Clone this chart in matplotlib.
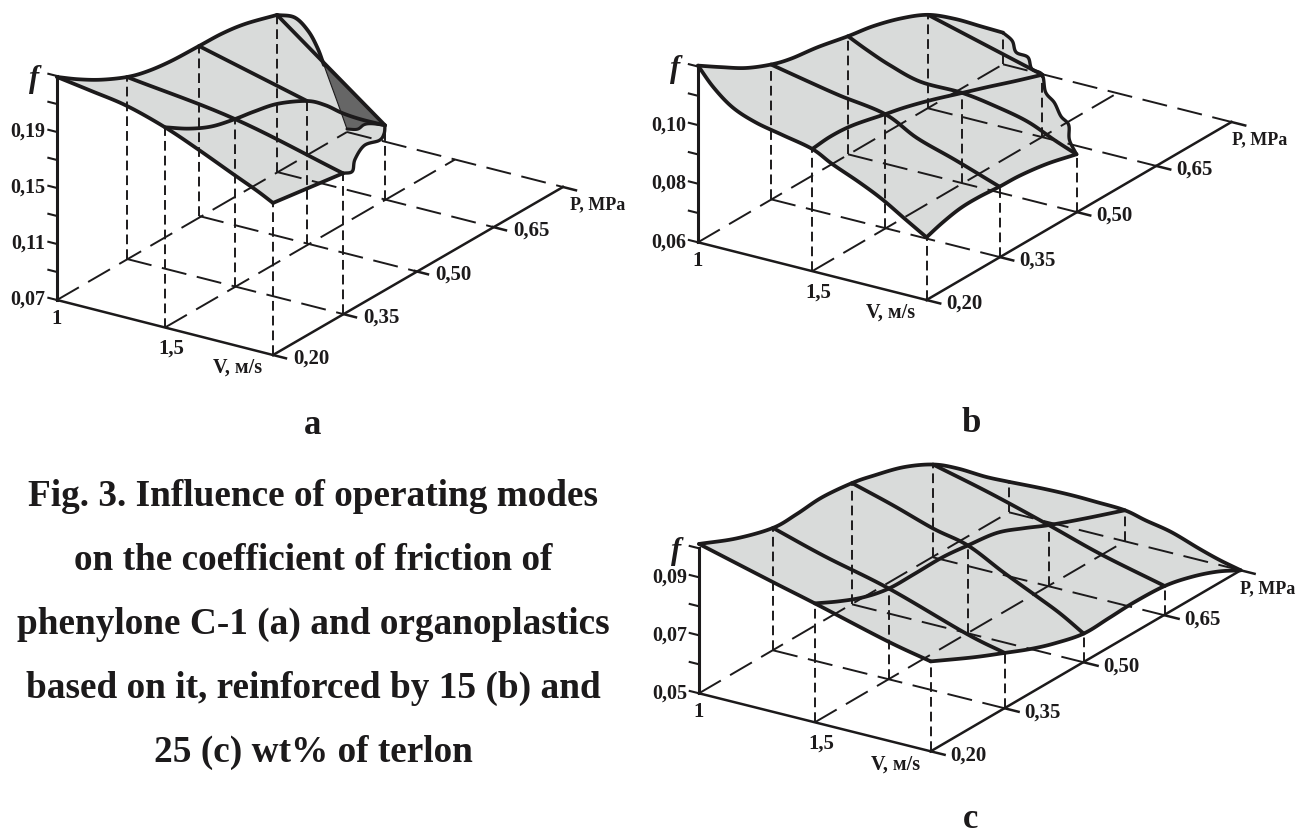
import numpy as np
import matplotlib
matplotlib.use('Agg')
import matplotlib.pyplot as plt

plt.rcParams['font.family'] = ['Liberation Serif', 'DejaVu Serif']

INK = '#1c1a1b'
LIGHT = '#d9dbda'
DARK = '#666666'

# Surface lines: V in m/s, P in MPa, f friction coefficient
# panel a
a_top_P = [0.20, 0.245, 0.2945, 0.35, 0.392, 0.4415, 0.50, 0.545, 0.59, 0.65]
a_top_f = [0.2293, 0.2189, 0.2089, 0.2, 0.1954, 0.1926, 0.1914, 0.191, 0.1885, 0.1822]
a_back_P = [0.65, 0.688, 0.717, 0.737, 0.7505]
a_back_f = [0.1822, 0.1731, 0.1579, 0.1419, 0.1273]
a_lower_P = [0.7505, 0.761, 0.782, 0.80]
a_lower_f = [0.1273, 0.1156, 0.0924, 0.0721]
a_fold_V = [1.0, 1.137, 1.225, 1.324, 1.5]
a_fold_P = [0.80, 0.759, 0.7325, 0.703, 0.65]
a_fold_f = [0.0721, 0.0852, 0.0969, 0.1071, 0.123]
a_p20_V = [1.0, 1.157, 1.322, 1.5, 1.651, 1.815, 1.926, 2.0]
a_p20_f = [0.2293, 0.2256, 0.2214, 0.213, 0.2034, 0.192, 0.1844, 0.1786]
a_v15_P = [0.20, 0.251, 0.30, 0.35, 0.39, 0.439, 0.50, 0.535, 0.568, 0.6035, 0.65]
a_v15_f = [0.213, 0.2021, 0.1941, 0.1896, 0.1868, 0.1823, 0.1718, 0.1615, 0.1489, 0.137, 0.123]
a_p35_V = [1.0, 1.5, 2.0]
a_p35_f = [0.2, 0.1896, 0.1705]
a_p50_V = [1.0, 1.5]
a_p50_f = [0.1914, 0.1718]
a_p65_V = [1.0, 1.5]
a_p65_f = [0.1822, 0.123]
a_v2_P = [0.20, 0.35]
a_v2_f = [0.1786, 0.1705]
a_wave_V = [2.0, 1.872, 1.831, 1.715, 1.56, 1.51, 1.5]
a_wave_P = [0.35, 0.427, 0.451, 0.521, 0.614, 0.644, 0.65]
a_wave_f = [0.1705, 0.1511, 0.1531, 0.1441, 0.1221, 0.1186, 0.123]
a_node_V = [1, 1, 1, 1.5, 1.5, 1.5, 1.5, 2, 2]
a_node_P = [0.35, 0.50, 0.65, 0.20, 0.35, 0.50, 0.65, 0.20, 0.35]
a_node_f = [0.2, 0.1914, 0.1822, 0.213, 0.1896, 0.1718, 0.123, 0.1786, 0.1705]
a_f_ticks = [0.07, 0.09, 0.11, 0.13, 0.15, 0.17, 0.19, 0.21, 0.23]
a_f_labels = ['0,07', '0,11', '0,15', '0,19']

# panel b
b_top_P = [0.20, 0.246, 0.298, 0.35, 0.389, 0.441, 0.50, 0.547, 0.599, 0.65, 0.704, 0.757, 0.80]
b_top_f = [0.1203, 0.1153, 0.1099, 0.106, 0.104, 0.1026, 0.1003, 0.0988, 0.096, 0.0919, 0.0851, 0.0772, 0.0708]
b_p20_V = [1.0, 1.068, 1.152, 1.252, 1.37, 1.5, 1.587, 1.705, 1.805, 1.906, 2.0]
b_p20_f = [0.1203, 0.1142, 0.109, 0.1059, 0.1039, 0.1017, 0.0983, 0.0944, 0.0906, 0.0858, 0.0814]
b_v15_P = [0.20, 0.239, 0.284, 0.35, 0.39, 0.442, 0.50, 0.548, 0.60, 0.65]
b_v15_f = [0.1017, 0.1023, 0.1016, 0.0989, 0.0972, 0.0944, 0.0908, 0.0878, 0.0844, 0.0813]
b_v2_P = [0.20, 0.233, 0.27, 0.308, 0.35, 0.39, 0.443, 0.50]
b_v2_f = [0.0814, 0.0832, 0.0845, 0.0846, 0.084, 0.0837, 0.0823, 0.0797]
b_p35_V = [1.0, 1.17, 1.304, 1.5, 1.639, 1.806, 2.0]
b_p35_f = [0.106, 0.1033, 0.1013, 0.0989, 0.0935, 0.0893, 0.084]
b_p50_V = [1.0, 1.084, 1.184, 1.318, 1.5, 1.653, 1.787, 1.905, 2.0]
b_p50_f = [0.1003, 0.0972, 0.094, 0.091, 0.0908, 0.089, 0.0866, 0.0826, 0.0797]
b_p65_V = [1.0, 1.5]
b_p65_f = [0.0919, 0.0813]
b_wave_V = [1.0, 1.117, 1.167, 1.319, 1.369, 1.5, 1.545, 1.672, 1.773, 1.884, 1.899, 2.0]
b_wave_P = [0.80, 0.765, 0.75, 0.704, 0.689, 0.65, 0.637, 0.599, 0.568, 0.535, 0.53, 0.50]
b_wave_f = [0.0708, 0.0738, 0.0724, 0.0783, 0.0768, 0.0813, 0.0776, 0.0805, 0.0811, 0.0838, 0.0795, 0.0797]
b_node_V = [1, 1, 1, 1, 1.5, 1.5, 1.5, 1.5, 2, 2, 2]
b_node_P = [0.35, 0.50, 0.65, 0.80, 0.20, 0.35, 0.50, 0.65, 0.20, 0.35, 0.50]
b_node_f = [0.106, 0.1003, 0.0919, 0.0708, 0.1017, 0.0989, 0.0908, 0.0813, 0.0814, 0.084, 0.0797]
b_f_ticks = [0.06, 0.07, 0.08, 0.09, 0.10, 0.11, 0.12]
b_f_labels = ['0,06', '0,08', '0,10']

# panel c
c_top_P = [0.20, 0.276, 0.35, 0.395, 0.443, 0.50, 0.539, 0.595, 0.65, 0.698, 0.754, 0.80]
c_top_f = [0.1015, 0.0959, 0.0922, 0.0922, 0.0929, 0.0918, 0.0901, 0.087, 0.082, 0.0757, 0.067, 0.0605]
c_p80_V = [1.0, 1.146, 1.27, 1.377, 1.5, 1.59, 1.70, 1.82, 1.91, 2.0]
c_p80_f = [0.0605, 0.0611, 0.0613, 0.0611, 0.0607, 0.059, 0.0572, 0.0539, 0.0517, 0.05]
c_p20_V = [1.0, 1.32, 1.5, 1.81, 2.0]
c_p20_f = [0.1015, 0.0947, 0.091, 0.0843, 0.081]
c_v15_P = [0.20, 0.25, 0.30, 0.35, 0.398, 0.452, 0.50, 0.554, 0.604, 0.65, 0.72, 0.80]
c_v15_f = [0.091, 0.0868, 0.0833, 0.0813, 0.0812, 0.0813, 0.0803, 0.0788, 0.075, 0.0711, 0.0661, 0.0607]
c_v2_P = [0.20, 0.286, 0.35, 0.40, 0.446, 0.50, 0.547, 0.593, 0.65, 0.704, 0.754, 0.80]
c_v2_f = [0.081, 0.0739, 0.0691, 0.0652, 0.0623, 0.0599, 0.0602, 0.0606, 0.0601, 0.0577, 0.0543, 0.05]
c_p35_V = [1.0, 1.222, 1.5, 1.835, 2.0]
c_p35_f = [0.0922, 0.0869, 0.0813, 0.0724, 0.0691]
c_p50_V = [1.0, 1.176, 1.352, 1.5, 1.651, 1.792, 1.898, 2.0]
c_p50_f = [0.0918, 0.0877, 0.0831, 0.0803, 0.0742, 0.0689, 0.0648, 0.0599]
c_p65_V = [1.0, 1.248, 1.5, 1.726, 2.0]
c_p65_f = [0.082, 0.077, 0.0711, 0.0655, 0.0601]
c_node_V = [1, 1, 1, 1, 1.5, 1.5, 1.5, 1.5, 1.5, 2, 2, 2, 2]
c_node_P = [0.35, 0.50, 0.65, 0.80, 0.20, 0.35, 0.50, 0.65, 0.80, 0.20, 0.35, 0.50, 0.65]
c_node_f = [0.0922, 0.0918, 0.082, 0.0605, 0.091, 0.0813, 0.0803, 0.0711, 0.0607, 0.081, 0.0691, 0.0599, 0.0601]
c_f_ticks = [0.05, 0.06, 0.07, 0.08, 0.09, 0.10]
c_f_labels = ['0,05', '0,07', '0,09']

P_ticks = [0.20, 0.35, 0.50, 0.65, 0.80]
P_labels = ['0,20', '0,35', '0,50', '0,65']

caption = ['Fig. 3. Influence of operating modes',
           'on the coefficient of friction of',
           'phenylone C-1 (a) and organoplastics',
           'based on it, reinforced by 15 (b) and',
           '25 (c) wt% of terlon']


def make_proj(x0, y0, vdx, vdy, pdx, pdy, fscale, fmin):
    # oblique drawing, V and P on the floor and f straight up (pixel units)
    # P ticks are not evenly spaced in the drawing, so pdx/pdy hold one offset per tick
    def proj(V, P, f):
        V, P, f = np.broadcast_arrays(np.asarray(V, float), np.asarray(P, float), np.asarray(f, float))
        x = x0 + vdx * (V - 1) + np.interp(P, P_ticks, pdx)
        y = y0 + vdy * (V - 1) + np.interp(P, P_ticks, pdy) - fscale * (f - fmin)
        return x, y
    return proj


def smooth(x, y, n=10):
    x = np.asarray(x, float)
    y = np.asarray(y, float)
    if len(x) < 3:
        return x, y
    px = np.r_[2 * x[0] - x[1], x, 2 * x[-1] - x[-2]]
    py = np.r_[2 * y[0] - y[1], y, 2 * y[-1] - y[-2]]
    t = np.linspace(0, 1, n, endpoint=False)[:, None]
    def seg(p):
        p0, p1, p2, p3 = p[:-3], p[1:-2], p[2:-1], p[3:]
        return (0.5 * (2 * p1 + (p2 - p0) * t + (2 * p0 - 5 * p1 + 4 * p2 - p3) * t ** 2
                       + (3 * p1 - p0 - 3 * p2 + p3) * t ** 3)).T.ravel()
    return np.r_[seg(px), x[-1]], np.r_[seg(py), y[-1]]


def draw_frame(ax, proj, fmin, f_ticks, f_labels, fx, node_V, node_P, node_f):
    long_dash = (0, (13, 5.5))
    short_dash = (0, (5, 2.6))
    # floor grid
    for V in [1.0, 1.5]:
        x, y = proj([V, V], [0.20, 0.80], fmin)
        ax.plot(x, y, color=INK, lw=1.4, ls=long_dash, zorder=2)
    for P in P_ticks[1:]:
        x, y = proj([1.0, 2.0], [P, P], fmin)
        ax.plot(x, y, color=INK, lw=1.4, ls=long_dash, zorder=2)
    # verticals from the floor up to the surface
    for V, P, f in zip(node_V, node_P, node_f):
        x, y = proj([V, V], [P, P], [fmin, f])
        ax.plot(x, y, color=INK, lw=1.4, ls=short_dash, zorder=2)
    # solid axes
    x, y = proj([1.0, 2.0], 0.20, fmin)
    ax.plot(x, y, color=INK, lw=1.8, zorder=4)
    x, y = proj([2.0, 2.0], [0.20, 0.80], fmin)
    ax.plot(x, y, color=INK, lw=1.8, zorder=4)
    x, y = proj([1.0, 1.0], 0.20, [fmin, f_ticks[-1]])
    ax.plot(x, y, color=INK, lw=2.2, zorder=4)
    for f in f_ticks:
        x, y = proj([0.96, 1.0], 0.20, f)
        ax.plot(x, y, color=INK, lw=1.5, zorder=4)
    for P in P_ticks:
        x, y = proj([2.0, 2.06], P, fmin)
        ax.plot(x, y, color=INK, lw=1.8, zorder=4)
    for V in [1.0, 1.5, 2.0]:
        x, y = proj([V, V], [0.175, 0.20], fmin)
        ax.plot(x, y, color=INK, lw=1.8, zorder=4)
    # labels
    for lab in f_labels:
        x, y = proj(1.0, 0.20, float(lab.replace(',', '.')))
        ax.text(x - 12, y - 1, lab, ha='right', va='center', fontsize=14.5, fontweight='bold', color=INK)
    x, y = proj(1.0, 0.20, f_ticks[-1])
    ax.text(x - 23, y + 2, 'f', ha='center', va='center', fontsize=22, fontweight='bold',
            style='italic', color=INK)
    x, y = proj(1.0, 0.20, fmin)
    ax.text(x, y + 18, '1', ha='center', va='center', fontsize=15, fontweight='bold', color=INK)
    x, y = proj(1.5, 0.20, fmin)
    ax.text(x + 6, y + 20, '1,5', ha='center', va='center', fontsize=15, fontweight='bold', color=INK)
    x, y = proj(2.0, 0.20, fmin)
    ax.text(x - 11, y + 12, 'V, м/s', ha='right', va='center', fontsize=14.5, fontweight='bold', color=INK)
    for P, lab in zip(P_ticks, P_labels):
        x, y = proj(2.0, P, fmin)
        ax.text(x + 20, y + 3, lab, ha='left', va='center', fontsize=15, fontweight='bold', color=INK)
    x, y = proj(2.0, 0.80, fmin)
    ax.text(x + fx, y + 17, 'P, MPa', ha='left', va='center', fontsize=13, fontweight='bold', color=INK)


def thick(ax, proj, V, P, f, lw=2.7):
    x, y = smooth(*proj(V, P, f))
    ax.plot(x, y, color=INK, lw=lw, solid_capstyle='round', solid_joinstyle='round', zorder=3)
    return x, y


fig = plt.figure(figsize=(13.06, 8.37), dpi=100)
ax = fig.add_axes([0, 0, 1, 1])
ax.set_xlim(0, 1306)
ax.set_ylim(837, 0)
ax.axis('off')

# a
proj_a = make_proj(57, 301, 216, 55, [0, 70, 142, 220, 290], [0, -41, -84, -128, -168], 1400, 0.07)
top = thick(ax, proj_a, 1.0, a_top_P, a_top_f)
back = thick(ax, proj_a, 1.0, a_back_P, a_back_f)
lower = smooth(*proj_a(1.0, a_lower_P, a_lower_f))
fold = thick(ax, proj_a, a_fold_V, a_fold_P, a_fold_f, lw=2.2)
wave = thick(ax, proj_a, a_wave_V, a_wave_P, a_wave_f, lw=2.4)
edge = thick(ax, proj_a, 2.0, a_v2_P, a_v2_f)
left = thick(ax, proj_a, a_p20_V, 0.20, a_p20_f)
xs = np.r_[top[0], back[0], lower[0], fold[0], wave[0][::-1], edge[0][::-1], left[0][::-1]]
ys = np.r_[top[1], back[1], lower[1], fold[1], wave[1][::-1], edge[1][::-1], left[1][::-1]]
ax.fill(xs, ys, color=LIGHT, lw=0, zorder=1)
thick(ax, proj_a, 1.5, a_v15_P, a_v15_f)
thick(ax, proj_a, a_p35_V, 0.35, a_p35_f)
thick(ax, proj_a, a_p50_V, 0.50, a_p50_f)
thick(ax, proj_a, a_p65_V, 0.65, a_p65_f)
# dark fold behind the ridge
ax.fill(np.r_[lower[0], fold[0]], np.r_[lower[1], fold[1]], facecolor=DARK, edgecolor=INK, lw=0.8, zorder=2.5)
draw_frame(ax, proj_a, 0.07, a_f_ticks, a_f_labels, 7, a_node_V, a_node_P, a_node_f)

# b
proj_b = make_proj(698, 243.3, 228.5, 57.7, [0, 73, 150, 230, 305], [0, -43, -88, -134, -178], 2930, 0.06)
top = thick(ax, proj_b, 1.0, b_top_P, b_top_f)
wave = thick(ax, proj_b, b_wave_V, b_wave_P, b_wave_f, lw=2.4)
edge = thick(ax, proj_b, 2.0, b_v2_P, b_v2_f)
left = thick(ax, proj_b, b_p20_V, 0.20, b_p20_f)
ax.fill(np.r_[top[0], wave[0], edge[0][::-1], left[0][::-1]],
        np.r_[top[1], wave[1], edge[1][::-1], left[1][::-1]], color=LIGHT, lw=0, zorder=1)
thick(ax, proj_b, 1.5, b_v15_P, b_v15_f)
thick(ax, proj_b, b_p35_V, 0.35, b_p35_f)
thick(ax, proj_b, b_p50_V, 0.50, b_p50_f)
thick(ax, proj_b, b_p65_V, 0.65, b_p65_f)
draw_frame(ax, proj_b, 0.06, b_f_ticks, b_f_labels, 0, b_node_V, b_node_P, b_node_f)

# c
proj_c = make_proj(699, 694.3, 231.7, 58, [0, 74, 153, 234, 310], [0, -43, -89, -136, -181], 2900, 0.05)
top = thick(ax, proj_c, 1.0, c_top_P, c_top_f)
back = thick(ax, proj_c, c_p80_V, 0.80, c_p80_f)
edge = thick(ax, proj_c, 2.0, c_v2_P, c_v2_f)
left = thick(ax, proj_c, c_p20_V, 0.20, c_p20_f)
ax.fill(np.r_[top[0], back[0], edge[0][::-1], left[0][::-1]],
        np.r_[top[1], back[1], edge[1][::-1], left[1][::-1]], color=LIGHT, lw=0, zorder=1)
thick(ax, proj_c, 1.5, c_v15_P, c_v15_f)
thick(ax, proj_c, c_p35_V, 0.35, c_p35_f)
thick(ax, proj_c, c_p50_V, 0.50, c_p50_f)
thick(ax, proj_c, c_p65_V, 0.65, c_p65_f)
draw_frame(ax, proj_c, 0.05, c_f_ticks, c_f_labels, -1, c_node_V, c_node_P, c_node_f)

# letters and caption
for lab, x, y in [('a', 313, 425), ('b', 971, 424), ('c', 971, 820)]:
    ax.text(x, y, lab, ha='center', va='center', fontsize=25, fontweight='bold', color=INK)
for i, line in enumerate(caption):
    ax.text(313.5, 506 + i * 64, line, ha='center', va='baseline', fontsize=26.8, fontweight='bold', color=INK)

fig.savefig('out.png', dpi=100)
